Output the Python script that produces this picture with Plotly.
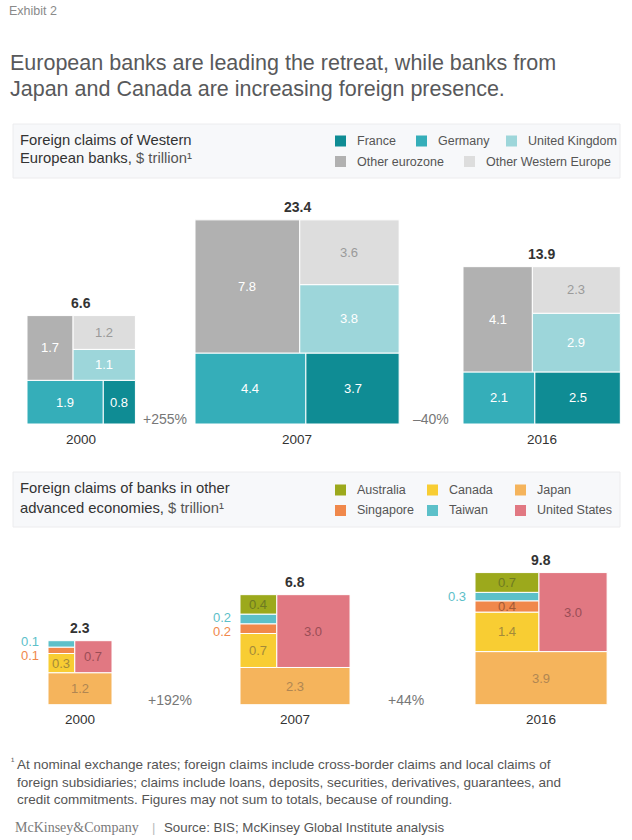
import math
import plotly.graph_objects as go

# ---------------- data ----------------
eu_years = ["2000", "2007", "2016"]
eu_totals = [6.6, 23.4, 13.9]
eu_france = [0.8, 3.7, 2.5]
eu_germany = [1.9, 4.4, 2.1]
eu_uk = [1.1, 3.8, 2.9]
eu_other_euro = [1.7, 7.8, 4.1]
eu_other_we = [1.2, 3.6, 2.3]
eu_changes = ["+255%", "\u201340%"]

adv_years = ["2000", "2007", "2016"]
adv_totals = [2.3, 6.8, 9.8]
adv_australia = [0.0, 0.4, 0.7]
adv_canada = [0.3, 0.7, 1.4]
adv_japan = [1.2, 2.3, 3.9]
adv_singapore = [0.1, 0.2, 0.4]
adv_taiwan = [0.1, 0.2, 0.3]
adv_us = [0.7, 3.0, 3.0]
adv_changes = ["+192%", "+44%"]

# ---------------- style / layout ----------------
W, H = 632, 840
K = 42.2                      # pixels per sqrt($ trillion) unit
FONT = "Liberation Sans, Arial, sans-serif"

C_FR, C_DE, C_UK, C_OE, C_OW = "#0f8c94", "#35aeb9", "#9dd6da", "#b1b1b1", "#dddddd"
C_AU, C_CA, C_JP, C_SG, C_TW, C_US = "#9ca91c", "#f8cd33", "#f5b45c", "#f0884b", "#5cc0c9", "#e17882"
T_AU, T_CA, T_JP, T_SG, T_US = "#6e7a22", "#a38a3a", "#b08652", "#a35a35", "#9a4d56"

EU_BASE_PX = 424.0
ADV_BASE_PX = 704.7
EU_LEFT_PX = [27, 195, 463]
ADV_LEFT_PX = [48, 240, 475]

fig = go.Figure()
annotations = []
shapes = []


def px2paper(x, y):
    return x / W, 1 - y / H


def rect(x0, y0, x1, y1, color, yaxis):
    fig.add_trace(go.Scatter(
        x=[x0, x1, x1, x0, x0], y=[y0, y0, y1, y1, y0],
        mode="lines", fill="toself", fillcolor=color,
        line=dict(color="white", width=1), hoverinfo="skip",
        showlegend=False, yaxis=yaxis))


def label(x, y, text, color, yref, size=13, bold=False, xanchor="center", xshift=0, yshift=0):
    annotations.append(dict(
        x=x, y=y, xref="x", yref=yref, text=("<b>%s</b>" % text) if bold else text,
        showarrow=False, xanchor=xanchor, yanchor="middle", xshift=xshift, yshift=yshift,
        font=dict(family=FONT, size=size, color=color)))


# ---------- Western European banks ----------
for i in range(len(eu_years)):
    s = math.sqrt(eu_totals[i])
    x0 = EU_LEFT_PX[i] / K
    fr, de, uk, oe, ow = eu_france[i], eu_germany[i], eu_uk[i], eu_other_euro[i], eu_other_we[i]
    tot = fr + de + uk + oe + ow
    hb = s * (de + fr) / tot
    wde = s * de / (de + fr)
    rect(x0, 0, x0 + wde, hb, C_DE, "y")
    rect(x0 + wde, 0, x0 + s, hb, C_FR, "y")
    woe = s * oe / (oe + uk + ow)
    rect(x0, hb, x0 + woe, s, C_OE, "y")
    huk = (s - hb) * uk / (uk + ow)
    rect(x0 + woe, hb, x0 + s, hb + huk, C_UK, "y")
    rect(x0 + woe, hb + huk, x0 + s, s, C_OW, "y")
    label(x0 + wde / 2, hb / 2, f"{de:.1f}", "white", "y")
    label(x0 + (wde + s) / 2, hb / 2, f"{fr:.1f}", "white", "y")
    label(x0 + woe / 2, (hb + s) / 2, f"{oe:.1f}", "white", "y")
    label(x0 + (woe + s) / 2, hb + huk / 2, f"{uk:.1f}", "white", "y")
    label(x0 + (woe + s) / 2, (hb + huk + s) / 2, f"{ow:.1f}", "#9a9a9a", "y")
    label(x0 + s / 2, s, f"{eu_totals[i]:.1f}", "#333333", "y", size=14, bold=True, yshift=13)
    label(x0 + s / 2, 0, eu_years[i], "#333333", "y", size=13.5, yshift=-15)
    if i > 0:
        prev_right = EU_LEFT_PX[i - 1] / K + math.sqrt(eu_totals[i - 1])
        label((prev_right + x0) / 2, 0, eu_changes[i - 1], "#777777", "y", size=14, yshift=5)

# ---------- Other advanced economies ----------
for i in range(len(adv_years)):
    s = math.sqrt(adv_totals[i])
    x0 = ADV_LEFT_PX[i] / K
    au, ca, jp, sg, tw, us = (adv_australia[i], adv_canada[i], adv_japan[i],
                              adv_singapore[i], adv_taiwan[i], adv_us[i])
    tot = au + ca + jp + sg + tw + us
    hj = s * jp / tot
    rect(x0, 0, x0 + s, hj, C_JP, "y2")
    label(x0 + s / 2, hj / 2, f"{jp:.1f}", T_JP, "y2")
    left = ca + sg + tw + au
    wl = s * left / (left + us)
    rect(x0 + wl, hj, x0 + s, s, C_US, "y2")
    label(x0 + (wl + s) / 2, (hj + s) / 2, f"{us:.1f}", T_US, "y2")
    yc = hj
    outside = []
    for v, c, tc in [(ca, C_CA, T_CA), (sg, C_SG, T_SG), (tw, C_TW, None), (au, C_AU, T_AU)]:
        if v <= 0:
            continue
        h = (s - hj) * v / left
        rect(x0, yc, x0 + wl, yc + h, c, "y2")
        if h * K >= 10.5:
            label(x0 + wl / 2, yc + h / 2, f"{v:.1f}", tc if tc else "#3b8a90", "y2")
        else:
            outside.append((yc + h / 2, f"{v:.1f}", c))
        yc += h
    if len(outside) == 1:
        yv, t, c = outside[0]
        label(x0, yv, t, c, "y2", xanchor="right", xshift=-7)
    elif len(outside) >= 2:
        mean = sum(o[0] for o in outside) / len(outside)
        n = len(outside)
        for j, (yv, t, c) in enumerate(outside):
            off = (j - (n - 1) / 2) * 14
            label(x0, mean, t, c, "y2", xanchor="right", xshift=-7, yshift=off - 1)
    label(x0 + s / 2, s, f"{adv_totals[i]:.1f}", "#333333", "y2", size=14, bold=True, yshift=13)
    label(x0 + s / 2, 0, adv_years[i], "#333333", "y2", size=13.5, yshift=-15)
    if i > 0:
        prev_right = ADV_LEFT_PX[i - 1] / K + math.sqrt(adv_totals[i - 1])
        label((prev_right + x0) / 2 - 0.15, 0, adv_changes[i - 1], "#777777", "y2", size=14, yshift=5)


# ---------- paper-level text ----------
def ptext(x, y, text, size, color, family=FONT, xanchor="left"):
    px, py = px2paper(x, y)
    annotations.append(dict(x=px, y=py, xref="paper", yref="paper", text=text, showarrow=False,
                            xanchor=xanchor, yanchor="middle", align="left",
                            font=dict(family=family, size=size, color=color)))


def box(y0, y1):
    x0p, y0p = px2paper(13, y0)
    x1p, y1p = px2paper(620, y1)
    shapes.append(dict(type="rect", xref="paper", yref="paper", x0=x0p, x1=x1p, y0=y1p, y1=y0p,
                       fillcolor="#f7f8fa", line=dict(color="#ececee", width=1), layer="below"))


def legend_item(x, y, color, text):
    x0p, y0p = px2paper(x, y - 5.5)
    x1p, y1p = px2paper(x + 11, y + 5.5)
    shapes.append(dict(type="rect", xref="paper", yref="paper", x0=x0p, x1=x1p, y0=y1p, y1=y0p,
                       fillcolor=color, line=dict(width=0)))
    ptext(x + 20, y, text, 12.5, "#555555")


ptext(7, 11, "Exhibit 2", 12.5, "#8a8a8a", family="Liberation Sans Narrow, Arial Narrow, sans-serif")
ptext(8, 63, "European banks are leading the retreat, while banks from", 21.5, "#58595b")
ptext(8, 89, "Japan and Canada are increasing foreign presence.", 21.5, "#58595b")

box(124, 178)
ptext(18, 140, "Foreign claims of Western", 14.8, "#333333")
ptext(18, 158, "European banks, <span style='color:#555'>$ trillion\u00b9</span>", 14.8, "#333333")
legend_item(335, 141, C_FR, "France")
legend_item(416, 141, C_DE, "Germany")
legend_item(506, 141, C_UK, "United Kingdom")
legend_item(335, 161.5, C_OE, "Other eurozone")
legend_item(464, 161.5, C_OW, "Other Western Europe")

box(472, 527)
ptext(18, 488, "Foreign claims of banks in other", 14.8, "#333333")
ptext(18, 508, "advanced economies, <span style='color:#555'>$ trillion\u00b9</span>", 14.8, "#333333")
legend_item(335, 490, C_AU, "Australia")
legend_item(427, 490, C_CA, "Canada")
legend_item(515, 490, C_JP, "Japan")
legend_item(335, 510.5, C_SG, "Singapore")
legend_item(427, 510.5, C_TW, "Taiwan")
legend_item(515, 510.5, C_US, "United States")

ptext(9, 760, "\u00b9", 10, "#555555")
ptext(15, 764, "At nominal exchange rates; foreign claims include cross-border claims and local claims of", 13.5, "#555555")
ptext(15, 782, "foreign subsidiaries; claims include loans, deposits, securities, derivatives, guarantees, and", 13.5, "#555555")
ptext(15, 799, "credit commitments. Figures may not sum to totals, because of rounding.", 13.5, "#555555")
ptext(13, 827, "McKinsey&amp;Company", 14, "#7a7a7a", family="Liberation Serif, Times New Roman, serif")
ptext(150, 827, "|", 13, "#bbbbbb")
ptext(162, 827, "Source: BIS; McKinsey Global Institute analysis", 13.3, "#555555")

fig.update_layout(
    width=W, height=H, margin=dict(l=0, r=0, t=0, b=0),
    paper_bgcolor="white", plot_bgcolor="rgba(0,0,0,0)",
    showlegend=False, annotations=annotations, shapes=shapes,
    xaxis=dict(range=[0, W / K], domain=[0, 1], visible=False, fixedrange=True),
    yaxis=dict(range=[(EU_BASE_PX - H) / K, EU_BASE_PX / K], domain=[0, 1], visible=False, fixedrange=True),
    yaxis2=dict(range=[(ADV_BASE_PX - H) / K, ADV_BASE_PX / K], domain=[0, 1], overlaying="y",
                visible=False, fixedrange=True),
)

fig.write_html("out.html", config={"displayModeBar": False, "staticPlot": True},
               post_script="document.body.style.margin='0';document.body.style.overflow='hidden';")
